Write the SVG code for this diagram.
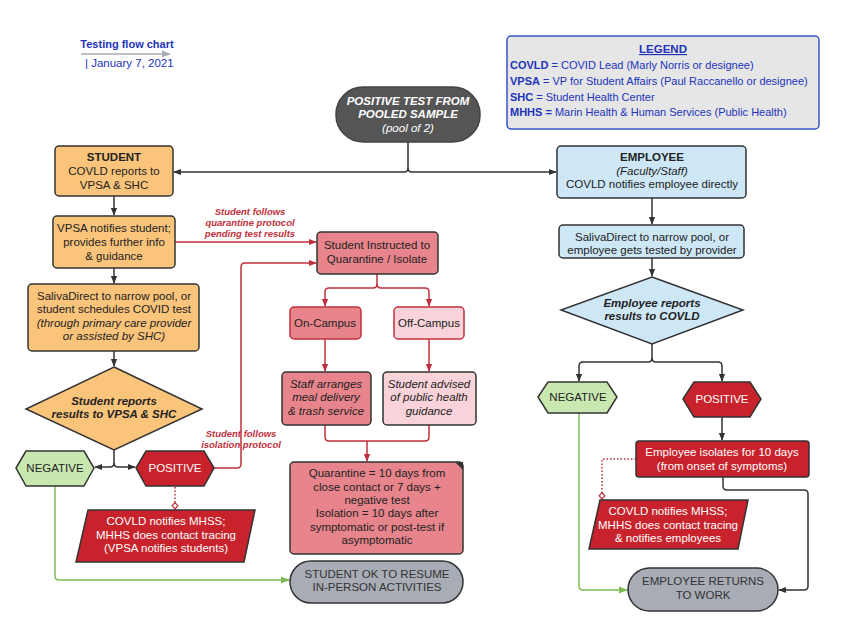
<svg xmlns="http://www.w3.org/2000/svg" width="850" height="641" viewBox="0 0 850 641">
<defs>
<marker id="ad" viewBox="0 0 10 10" refX="9" refY="5" markerWidth="8" markerHeight="8" markerUnits="userSpaceOnUse" orient="auto"><path d="M0,1 L10,5 L0,9 Z" fill="#333"/></marker>
<marker id="ar" viewBox="0 0 10 10" refX="9" refY="5" markerWidth="8" markerHeight="8" markerUnits="userSpaceOnUse" orient="auto"><path d="M0,1 L10,5 L0,9 Z" fill="#c0303c"/></marker>
<marker id="ag" viewBox="0 0 10 10" refX="9" refY="5" markerWidth="9" markerHeight="9" markerUnits="userSpaceOnUse" orient="auto"><path d="M0,1 L10,5 L0,9 Z" fill="#7dbb55"/></marker>
<marker id="agr" viewBox="0 0 10 10" refX="9" refY="5" markerWidth="9" markerHeight="9" markerUnits="userSpaceOnUse" orient="auto"><path d="M0,1 L10,5 L0,9 Z" fill="#a8acb5"/></marker>
<marker id="dm" viewBox="0 0 10 10" refX="9" refY="5" markerWidth="8" markerHeight="8" markerUnits="userSpaceOnUse" orient="auto"><path d="M1,5 L5,1.5 L9,5 L5,8.5 Z" fill="#fff" stroke="#c0303c" stroke-width="1.5"/></marker>
</defs>
<style>
text{font-family:"Liberation Sans",Arial,sans-serif;font-size:11.5px;fill:#222;text-anchor:middle}
.b{font-weight:bold}
.i{font-style:italic}
.w{fill:#fff}
.lg{fill:#2233bb;text-anchor:start;font-size:11px}
.rl{fill:#c0303c;font-weight:bold;font-style:italic;font-size:9.5px}
.box{stroke:#333;stroke-width:1.5}
.org{fill:#fbc47b}
.blu{fill:#cde7f7}
.pnk{fill:#e8848b}
.lpk{fill:#f9d3d9}
.drd{fill:#c8232c}
.grn{fill:#c9e8b0}
.gry{fill:#a8acb5}
.cd{fill:none;stroke:#333;stroke-width:1.5}
.cr{fill:none;stroke:#c0303c;stroke-width:1.5}
.cg{fill:none;stroke:#7dbb55;stroke-width:1.5}
.dot{fill:none;stroke:#c0303c;stroke-width:1.5;stroke-dasharray:1.5,2}
</style>

<g id="title">
<text x="127" y="48" class="b" style="fill:#2233bb;font-size:11px">Testing flow chart</text>
<line x1="81" y1="54" x2="170" y2="54" stroke="#a8acb5" stroke-width="1.5" marker-end="url(#agr)"/>
<text x="85" y="67" style="fill:#2233bb;font-size:11.5px;text-anchor:start">|  January 7, 2021</text>
</g>

<g id="legend">
<rect x="507" y="36" width="312" height="93" rx="4" fill="#e6e6e6" stroke="#3355cc" stroke-width="1.5"/>
<text x="663" y="53" class="b" style="fill:#2233bb;font-size:11.5px;text-decoration:underline">LEGEND</text>
<text x="510" y="69" class="lg"><tspan font-weight="bold">COVLD</tspan> = COVID Lead (Marly Norris or designee)</text>
<text x="510" y="85" class="lg"><tspan font-weight="bold">VPSA</tspan> = VP for Student Affairs (Paul Raccanello or designee)</text>
<text x="510" y="101" class="lg"><tspan font-weight="bold">SHC</tspan> = Student Health Center</text>
<text x="510" y="116" class="lg"><tspan font-weight="bold">MHHS =</tspan> Marin Health &amp; Human Services (Public Health)</text>
</g>

<g id="connectors">
<path class="cd" d="M408,142 V168 Q408,172 404,172 H174" marker-end="url(#ad)"/>
<path class="cd" d="M408,168 Q408,172 412,172 H556" marker-end="url(#ad)"/>
<path class="cd" d="M114,196 V215" marker-end="url(#ad)"/>
<path class="cd" d="M114,268 V283" marker-end="url(#ad)"/>
<path class="cd" d="M114,351 V366" marker-end="url(#ad)"/>
<path class="cd" d="M114,450 V463 Q114,467 110,467 H95" marker-end="url(#ad)"/>
<path class="cd" d="M114,463 Q114,467 118,467 H135" marker-end="url(#ad)"/>
<path class="cr" d="M175,242 H316" marker-end="url(#ar)"/>
<path class="cr" d="M214,468 H237 Q241,468 241,464 V267 Q241,263 245,263 H316" marker-end="url(#ar)"/>
<path class="dot" d="M175,487 V509" marker-end="url(#dm)"/>
<path class="cg" d="M55,486 V576 Q55,580 59,580 H289" marker-end="url(#ag)"/>
<path class="cr" d="M377,274 V284 Q377,288 373,288 H329 Q325,288 325,292 V306" marker-end="url(#ar)"/>
<path class="cr" d="M377,284 Q377,288 381,288 H425 Q429,288 429,292 V306" marker-end="url(#ar)"/>
<path class="cr" d="M325,339 V371" marker-end="url(#ar)"/>
<path class="cr" d="M429,339 V371" marker-end="url(#ar)"/>
<path class="cr" d="M325,425 V437 Q325,441 329,441 H425 Q429,441 429,437 V425"/>
<path class="cr" d="M367,441 V461" marker-end="url(#ar)"/>
<path class="cd" d="M652,198 V224" marker-end="url(#ad)"/>
<path class="cd" d="M652,258 V276" marker-end="url(#ad)"/>
<path class="cd" d="M652,344 V358 Q652,362 648,362 H583 Q579,362 579,366 V381" marker-end="url(#ad)"/>
<path class="cd" d="M652,358 Q652,362 656,362 H718 Q722,362 722,366 V381" marker-end="url(#ad)"/>
<path class="cd" d="M722,417 V440" marker-end="url(#ad)"/>
<path class="dot" d="M636,459 H602 V499" marker-end="url(#dm)"/>
<path class="cd" d="M723,477 V486 Q723,490 727,490 H804 Q808,490 808,494 V586 Q808,590 804,590 H779" marker-end="url(#ad)"/>
<path class="cg" d="M579,413 V586 Q579,590 583,590 H627" marker-end="url(#ag)"/>
<text x="250" y="215" class="rl">Student follows</text>
<text x="250" y="226" class="rl">quarantine protocol</text>
<text x="250" y="237" class="rl">pending test results</text>
<text x="241" y="437" class="rl">Student follows</text>
<text x="241" y="448" class="rl">isolation protocol</text>
</g>

<g id="start">
<rect x="336" y="87" width="144" height="55" rx="27" fill="#555" stroke="#444" stroke-width="1.5"/>
<text x="408" y="105" class="b i w" style="font-size:11.5px">POSITIVE TEST FROM</text>
<text x="408" y="118" class="b i w" style="font-size:11.5px">POOLED SAMPLE</text>
<text x="408" y="132" class="i w" style="font-size:11.5px">(pool of 2)</text>
</g>

<g id="student">
<rect x="55" y="146" width="118" height="50" rx="4" class="box org"/>
<text x="114" y="161" class="b">STUDENT</text>
<text x="114" y="175">COVLD reports to</text>
<text x="114" y="189">VPSA &amp; SHC</text>
</g>

<g id="vpsa">
<rect x="53" y="216" width="122" height="52" rx="4" class="box org"/>
<text x="114" y="232">VPSA notifies student;</text>
<text x="114" y="246">provides further info</text>
<text x="114" y="260">&amp; guidance</text>
</g>

<g id="student-test">
<rect x="28" y="284" width="171" height="67" rx="4" class="box org"/>
<text x="114" y="300">SalivaDirect to narrow pool, or</text>
<text x="114" y="313">student schedules COVID test</text>
<text x="114" y="327" class="i">(through primary care provider</text>
<text x="114" y="340" class="i">or assisted by SHC)</text>
</g>

<g id="student-reports">
<polygon points="114,367 202,409 114,450 26,409" class="box org"/>
<text x="114" y="405" class="b i">Student reports</text>
<text x="114" y="418" class="b i">results to VPSA &amp; SHC</text>
</g>

<g id="student-negative">
<polygon points="16,468 26,451 84,451 94,468 84,486 26,486" class="box grn"/>
<text x="55" y="472">NEGATIVE</text>
</g>

<g id="student-positive">
<polygon points="136,468 146,451 204,451 214,468 204,486 146,486" class="box drd"/>
<text x="175" y="472" class="w">POSITIVE</text>
</g>

<g id="student-tracing">
<polygon points="88,510 255,510 244,562 76,562" class="box drd"/>
<text x="166" y="525" class="w">COVLD notifies MHSS;</text>
<text x="166" y="539" class="w">MHHS does contact tracing</text>
<text x="166" y="552" class="w">(VPSA notifies students)</text>
</g>

<g id="quarantine-instructed">
<rect x="317" y="232" width="121" height="42" rx="4" class="box pnk"/>
<text x="377" y="249">Student Instructed to</text>
<text x="377" y="263">Quarantine / Isolate</text>
</g>

<g id="on-campus">
<rect x="290" y="307" width="71" height="32" rx="4" class="pnk" stroke="#c0303c" stroke-width="1.5"/>
<text x="325" y="327">On-Campus</text>
</g>

<g id="off-campus">
<rect x="394" y="307" width="70" height="32" rx="4" class="lpk" stroke="#c0303c" stroke-width="1.5"/>
<text x="429" y="327">Off-Campus</text>
</g>

<g id="staff-arranges">
<rect x="282" y="372" width="89" height="53" rx="4" class="box pnk"/>
<text x="326" y="388" class="i">Staff arranges</text>
<text x="326" y="401" class="i">meal delivery</text>
<text x="326" y="415" class="i">&amp; trash service</text>
</g>

<g id="student-advised">
<rect x="383" y="372" width="93" height="53" rx="4" class="box lpk"/>
<text x="429" y="388" class="i">Student advised</text>
<text x="429" y="401" class="i">of public health</text>
<text x="429" y="415" class="i">guidance</text>
</g>

<g id="quarantine-rules">
<rect x="290" y="462" width="173" height="92" rx="4" class="box pnk"/>
<path d="M455,462 L463,462 L463,470 Z" fill="#333"/>
<text x="377" y="477">Quarantine = 10 days from</text>
<text x="377" y="491">close contact or 7 days +</text>
<text x="377" y="504">negative test</text>
<text x="377" y="517">Isolation = 10 days after</text>
<text x="377" y="531">symptomatic or post-test if</text>
<text x="377" y="544">asymptomatic</text>
</g>

<g id="student-ok">
<rect x="290" y="561" width="173" height="42" rx="21" class="box gry"/>
<text x="377" y="578" style="fill:#333">STUDENT OK TO RESUME</text>
<text x="377" y="591" style="fill:#333">IN-PERSON ACTIVITIES</text>
</g>

<g id="employee">
<rect x="557" y="146" width="189" height="52" rx="4" class="box blu"/>
<text x="652" y="161" class="b">EMPLOYEE</text>
<text x="652" y="175" class="i">(Faculty/Staff)</text>
<text x="652" y="188">COVLD notifies employee directly</text>
</g>

<g id="employee-test">
<rect x="559" y="225" width="185" height="33" rx="4" class="box blu"/>
<text x="652" y="241">SalivaDirect to narrow pool, or</text>
<text x="652" y="254">employee gets tested by provider</text>
</g>

<g id="employee-reports">
<polygon points="652,277 743,310 652,344 561,310" class="box blu"/>
<text x="652" y="307" class="b i">Employee reports</text>
<text x="652" y="320" class="b i">results to COVLD</text>
</g>

<g id="employee-negative">
<polygon points="538,397 548,382 607,382 617,397 607,413 548,413" class="box grn"/>
<text x="578" y="401">NEGATIVE</text>
</g>

<g id="employee-positive">
<polygon points="683,399 694,382 750,382 761,399 750,417 694,417" class="box drd"/>
<text x="722" y="403" class="w">POSITIVE</text>
</g>

<g id="employee-isolates">
<rect x="636" y="441" width="173" height="36" rx="3" class="box drd"/>
<text x="722" y="456" class="w">Employee isolates for 10 days</text>
<text x="722" y="470" class="w">(from onset of symptoms)</text>
</g>

<g id="employee-tracing">
<polygon points="600,500 748,500 738,549 589,549" class="box drd"/>
<text x="668" y="515" class="w">COVLD notifies MHSS;</text>
<text x="668" y="529" class="w">MHHS does contact tracing</text>
<text x="668" y="542" class="w">&amp; notifies employees</text>
</g>

<g id="employee-returns">
<rect x="628" y="568" width="150" height="43" rx="21.5" class="box gry"/>
<text x="703" y="585" style="fill:#333">EMPLOYEE RETURNS</text>
<text x="703" y="599" style="fill:#333">TO WORK</text>
</g>
</svg>
